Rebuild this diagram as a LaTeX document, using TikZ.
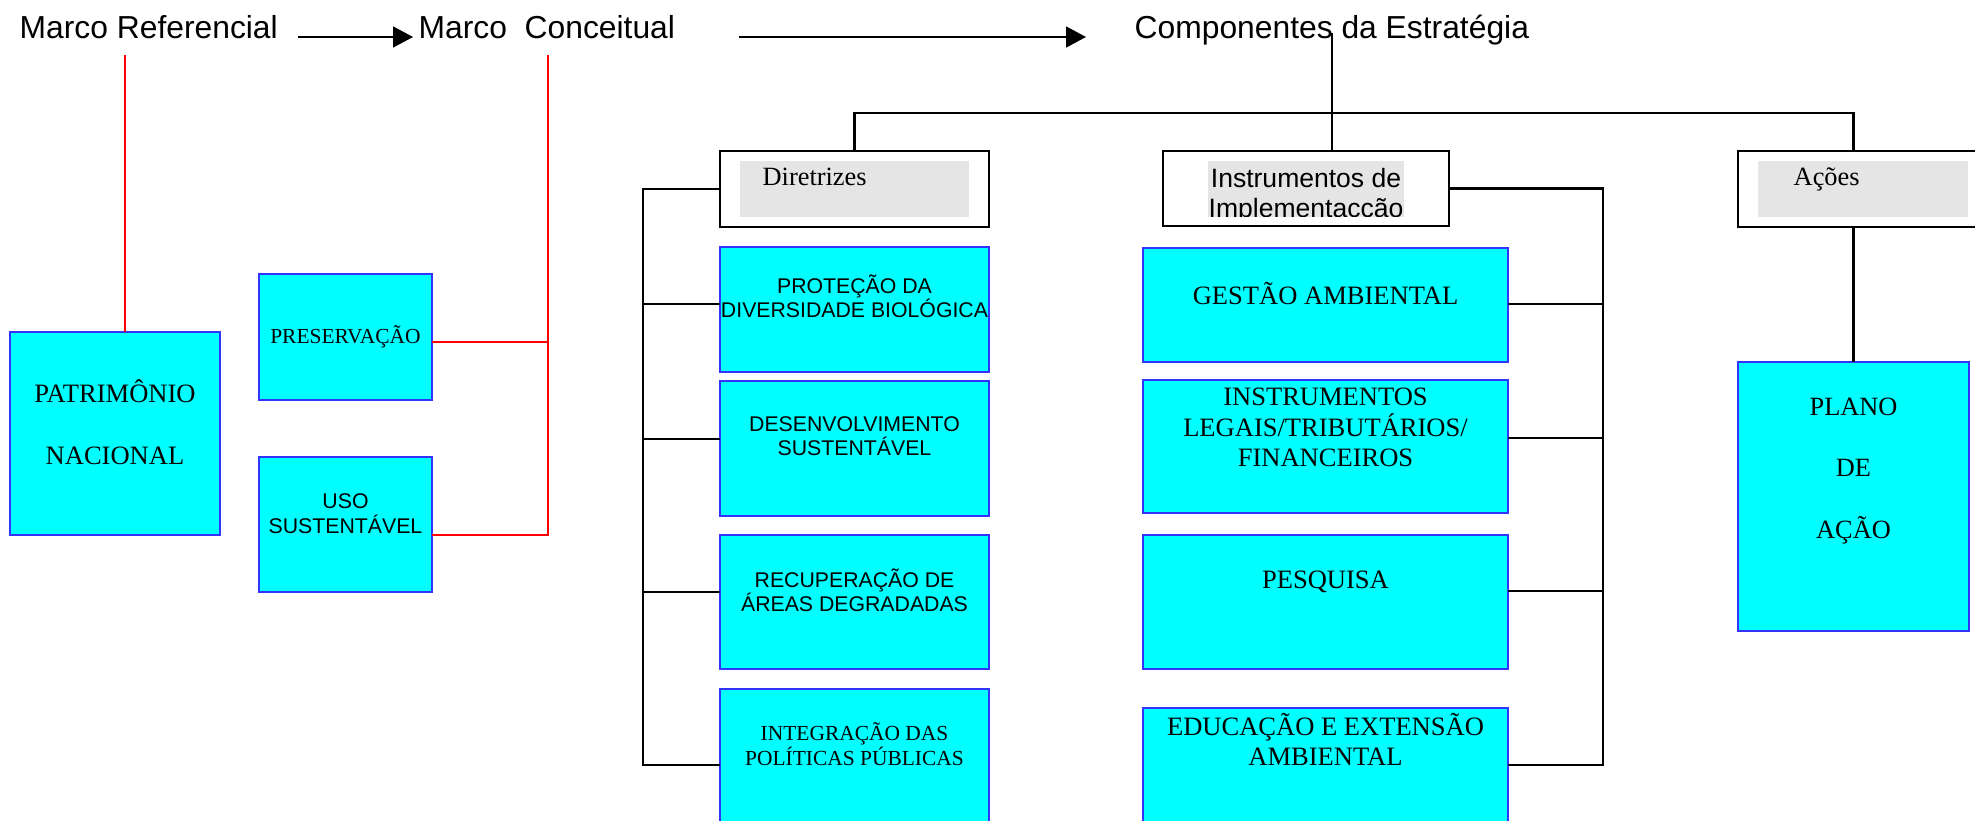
\documentclass[tikz,border=0pt]{standalone}
\usepackage{fontspec}
\setmainfont{Liberation Serif}
\setsansfont{Liberation Sans}
\usetikzlibrary{arrows.meta}
\definecolor{boxcyan}{RGB}{0,255,255}
\definecolor{boxblue}{RGB}{51,51,255}
\definecolor{hlgray}{RGB}{229,229,229}
\definecolor{linered}{RGB}{255,0,0}

\begin{document}
\begin{tikzpicture}[x=1cm,y=-1cm,
    cbox/.style={draw=boxblue,fill=boxcyan,line width=0.45pt,inner sep=0pt,outer sep=0pt},
    hbox/.style={draw=black,fill=white,line width=0.75pt,inner sep=0pt,outer sep=0pt},
    hl/.style={fill=hlgray,draw=none,inner sep=0pt,outer sep=0pt},
    conn/.style={black,line width=0.6pt},
    rconn/.style={linered,line width=0.45pt},
    tarrow/.style={black,line width=0.45pt,-{Triangle[length=2mm,width=2.1mm]}},
    title/.style={font=\sffamily\fontsize{9.05}{11}\selectfont,inner sep=0pt,anchor=base west},
    head/.style={font=\rmfamily\fontsize{7.5}{9}\selectfont,inner sep=0pt,anchor=base west},
    bigserif/.style={font=\rmfamily\fontsize{7.55}{8.7}\selectfont,align=center,inner sep=0pt},
    smallsans/.style={font=\sffamily\fontsize{6.05}{6.8}\selectfont,align=center,inner sep=0pt},
    smallserif/.style={font=\rmfamily\fontsize{6.1}{7.1}\selectfont,align=center,inner sep=0pt}]
    \useasboundingbox (0,0) rectangle (19.75,8.2);
    \clip (0,0) rectangle (19.75,8.2);

    \node[title] (mref) at (0.19,0.39) {Marco Referencial};
    \node[title] (mcon) at (4.18,0.39) {Marco\ \ Conceitual};
    \node[title] (comp) at (11.34,0.39) {Componentes da Estratégia};
    \coordinate (a1s) at (2.98,0.37);
    \coordinate (a1e) at (4.13,0.37);
    \coordinate (a2s) at (7.39,0.37);
    \coordinate (a2e) at (10.86,0.37);
    \draw[tarrow] (a1s) -- (a1e);
    \draw[tarrow] (a2s) -- (a2e);

    \node[cbox,minimum width=2.10cm,minimum height=2.03cm] (patr) at (1.15,4.335) {};
    \node[bigserif,font=\rmfamily\fontsize{7.55}{17.6}\selectfont] (patrT) at (1.15,4.22) {PATRIMÔNIO\\NACIONAL};
    \node[cbox,minimum width=1.73cm,minimum height=1.26cm] (pres) at (3.455,3.37) {};
    \node[smallserif] (presT) at (3.455,3.37) {PRESERVAÇÃO};
    \node[cbox,minimum width=1.73cm,minimum height=1.35cm] (uso) at (3.455,5.245) {};
    \node[smallsans,font=\sffamily\fontsize{6.05}{7.1}\selectfont] (usoT) at (3.455,5.135) {USO\\SUSTENTÁVEL};

    \coordinate (rref) at (1.25,0.55);
    \coordinate (rcon) at (5.48,0.55);
    \draw[rconn] (rref) -- (rref |- patr.north);
    \draw[rconn] (rcon) -- (5.48,5.35) -- (uso.east |- 0,5.35);
    \draw[rconn] (pres.east |- 0,3.42) -- (5.48,3.42);

    \node[hbox,minimum width=2.69cm,minimum height=0.76cm] (dir) at (8.545,1.89) {};
    \node[hl,minimum width=2.29cm,minimum height=0.56cm] (dirG) at (8.545,1.89) {};
    \node[head] (dirT) at (7.62,1.86) {Diretrizes};

    \node[hbox,minimum width=2.86cm,minimum height=0.75cm] (inst) at (13.06,1.885) {};
    \begin{scope}
        \clip (12.08,1.61) rectangle (14.04,2.17);
        \node[hl,minimum width=1.96cm,minimum height=0.56cm] (instG) at (13.06,1.89) {};
        \node[font=\sffamily\fontsize{7.55}{8.6}\selectfont,align=center,inner sep=0pt] (instT) at (13.06,1.96) {Instrumentos de\\Implementacção};
    \end{scope}

    \node[hbox,minimum width=2.50cm,minimum height=0.76cm] (acoes) at (18.63,1.89) {};
    \node[hl,minimum width=2.10cm,minimum height=0.56cm] (acoesG) at (18.63,1.89) {};
    \node[head] (acoesT) at (17.93,1.86) {Ações};

    \node[cbox,minimum width=2.69cm,minimum height=1.25cm] (prot) at (8.545,3.095) {};
    \node[cbox,minimum width=2.69cm,minimum height=1.35cm] (desv) at (8.545,4.485) {};
    \node[cbox,minimum width=2.69cm,minimum height=1.34cm] (recu) at (8.545,6.02) {};
    \node[cbox,minimum width=2.69cm,minimum height=1.71cm] (inte) at (8.545,7.745) {};
    \node[smallsans] (protT) at (8.545,2.96) {PROTEÇÃO DA\\DIVERSIDADE BIOLÓGICA};
    \node[smallsans] (desvT) at (8.545,4.365) {DESENVOLVIMENTO\\SUSTENTÁVEL};
    \node[smallsans] (recuT) at (8.545,5.905) {RECUPERAÇÃO DE\\ÁREAS DEGRADADAS};
    \node[smallserif] (inteT) at (8.545,7.445) {INTEGRAÇÃO DAS\\POLÍTICAS PÚBLICAS};

    \node[cbox,minimum width=3.65cm,minimum height=1.14cm] (gest) at (13.255,3.05) {};
    \node[cbox,minimum width=3.65cm,minimum height=1.33cm] (legs) at (13.255,4.465) {};
    \node[cbox,minimum width=3.65cm,minimum height=1.34cm] (pesq) at (13.255,6.02) {};
    \node[cbox,minimum width=3.65cm,minimum height=1.52cm] (educ) at (13.255,7.84) {};
    \node[bigserif] (gestT) at (13.255,2.94) {GESTÃO AMBIENTAL};
    \node[bigserif] (legsT) at (13.255,4.275) {INSTRUMENTOS\\LEGAIS/TRIBUTÁRIOS/\\FINANCEIROS};
    \node[bigserif] (pesqT) at (13.255,5.82) {PESQUISA};
    \node[bigserif] (educT) at (13.255,7.395) {EDUCAÇÃO E EXTENSÃO\\AMBIENTAL};

    \node[cbox,minimum width=2.31cm,minimum height=2.69cm] (plano) at (18.535,4.965) {};
    \node[bigserif,font=\rmfamily\fontsize{7.5}{17.5}\selectfont] (planoT) at (18.535,4.71) {PLANO\\DE\\AÇÃO};

    \coordinate (ctop) at (13.32,0.33);
    \draw[conn] (ctop) -- (ctop |- inst.north);
    \draw[conn] (dir.north) |- (plano.north |- 0,1.13) -- (plano.north |- acoes.north);
    \draw[conn] (plano.north |- acoes.south) -- (plano.north);

    \draw[conn] (dir.west) -| (6.43,7.65) -- (inte.west |- 0,7.65);
    \foreach \b/\y in {prot/3.04,desv/4.39,recu/5.92}
        \draw[conn] (6.43,\y) -- (\b.west |- 0,\y);
    \draw[conn] (inst.east) -| (16.03,7.65) -- (educ.east |- 0,7.65);
    \foreach \b/\y in {gest/3.04,legs/4.38,pesq/5.91}
        \draw[conn] (16.03,\y) -- (\b.east |- 0,\y);
\end{tikzpicture}
\end{document}
